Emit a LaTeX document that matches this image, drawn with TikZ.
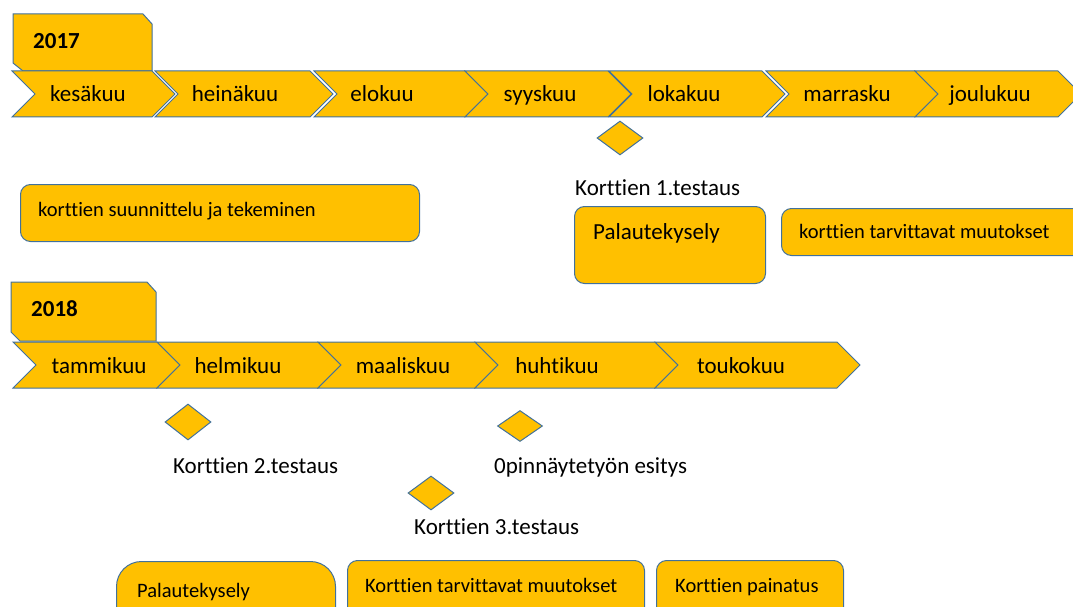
\documentclass[tikz,border=0pt]{standalone}
\usepackage{fontspec}
\setmainfont{Carlito}[Ligatures=NoCommon]
\usetikzlibrary{shapes.geometric, positioning, calc}
\definecolor{gold}{HTML}{FFC000}
\definecolor{edgeblue}{HTML}{41719C}

\begin{document}
\begin{tikzpicture}[
        x=1pt, y=-1pt,
        chev/.style={draw=edgeblue, fill=gold, line width=1pt, line join=miter},
        tab/.style={draw=edgeblue, fill=gold, line width=1pt},
        task/.style={rectangle, draw=edgeblue, fill=gold, rounded corners=10pt, line width=1pt, inner sep=0pt, anchor=north west},
        milestone/.style={diamond, draw=edgeblue, fill=gold, line width=1pt, inner sep=0pt, minimum width=46pt, minimum height=34pt},
        month/.style={font=\fontsize{23}{27}\selectfont, inner sep=0pt, anchor=base},
        year/.style={font=\fontsize{23}{27}\selectfont\bfseries, inner sep=0pt, anchor=base west},
        note/.style={font=\fontsize{23}{27}\selectfont, inner sep=0pt, anchor=base west},
        small/.style={font=\fontsize{20.5}{24}\selectfont, inner sep=0pt, anchor=base west}
    ]
        \clip (0,0) rectangle (1073,607);

        % 2017
        \draw[tab] (13,14) -- (143,14) -- (152,24) -- (152,71) -- (23,71) -- (13,63) -- cycle;
        \node[year] (y2017) at (33,49) {2017};
        \foreach \l/\r/\tx/\txt/\nm in {12/152/88/kesäkuu/kes, 155/310/235/heinäkuu/hei, 314/465/382/elokuu/elo, 465/608/540/syyskuu/syy, 609/762/684/lokakuu/lok, 766/915/847/marrasku/mar, 915/1058/990/joulukuu/jou} {
            \draw[chev] (\l,71) -- (\r,71) -- (\r+23,94) -- (\r,117) -- (\l,117) -- (\l+23,94) -- cycle;
            \node[month] (\nm) at (\tx,102) {\txt};
        }

        \node[milestone] (test1) at (620,138) {};
        \node[note] (test1lbl) at (575,195) {Korttien 1.testaus};

        \node[task, minimum width=399pt, minimum height=57pt] (design) at (20,184) {};
        \node[small] (designlbl) at (38,216) {korttien suunnittelu ja tekeminen};
        \node[task, minimum width=191pt, minimum height=77pt] (survey1) at (574,206) {};
        \node[note] (survey1lbl) at (593,239) {Palautekysely};
        \node[task, minimum width=330pt, minimum height=47pt] (changes1) at (781,208) {};
        \node[small] (changes1lbl) at (799,238) {korttien tarvittavat muutokset};

        % 2018
        \draw[tab] (11,282) -- (147,282) -- (156,292) -- (156,341) -- (20,341) -- (11,332) -- cycle;
        \node[year] (y2018) at (31,316) {2018};
        \foreach \l/\r/\tx/\txt/\nm in {13/157/99/tammikuu/tam, 157/318/238/helmikuu/hel, 318/475/403/maaliskuu/maa, 475/655/557/huhtikuu/huh, 655/837/741/toukokuu/tou} {
            \draw[chev] (\l,342) -- (\r,342) -- (\r+23,365) -- (\r,388) -- (\l,388) -- (\l+23,365) -- cycle;
            \node[month] (\nm) at (\tx,373) {\txt};
        }

        \node[milestone, minimum height=36pt] (test2) at (188,422) {};
        \node[note] (test2lbl) at (173,473) {Korttien 2.testaus};
        \node[milestone, minimum width=45pt, minimum height=31pt] (thesis) at (520,426) {};
        \node[note] (thesislbl) at (494,473) {0pinnäytetyön esitys};
        \node[milestone] (test3) at (431,493) {};
        \node[note] (test3lbl) at (414,534) {Korttien 3.testaus};

        \node[task, rounded corners=25pt, minimum width=219pt, minimum height=80pt] (survey2) at (116,561) {};
        \node[small] (survey2lbl) at (137,597) {Palautekysely};
        \node[task, minimum width=297pt, minimum height=70pt] (changes2) at (347,560) {};
        \node[small] (changes2lbl) at (365,592) {Korttien tarvittavat muutokset};
        \node[task, minimum width=187pt, minimum height=70pt] (print) at (656,560) {};
        \node[small] (printlbl) at (675,592) {Korttien painatus};
    \end{tikzpicture}
\end{document}
